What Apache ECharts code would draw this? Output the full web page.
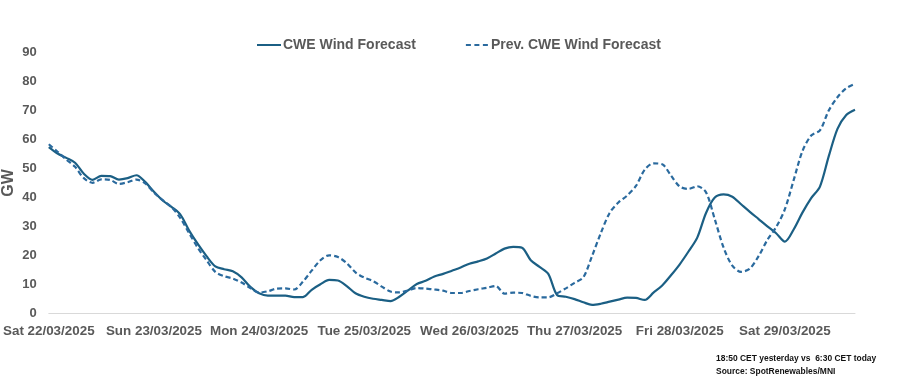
<!DOCTYPE html>
<html>
<head>
<meta charset="utf-8">
<script src="https://cdn.jsdelivr.net/npm/echarts@6/dist/echarts.min.js"></script>
<style>
html,body{margin:0;padding:0;background:#fff;}
#chart{width:897px;height:379px;}
</style>
</head>
<body>
<div id="chart"></div>
<script>
// Day labels (x-axis ticks, one every 24 h)
var dayLabels = ['Sat 22/03/2025','Sun 23/03/2025','Mon 24/03/2025','Tue 25/03/2025','Wed 26/03/2025','Thu 27/03/2025','Fri 28/03/2025','Sat 29/03/2025'];
// Hours of day sampled (every 2 h)
var hourLabels = ['00:00','02:00','04:00','06:00','08:00','10:00','12:00','14:00','16:00','18:00','20:00','22:00'];
// Last day covers up to 16:00
var lastDayHours = 9;

// CWE Wind Forecast (GW), every 2 hours
var cweWind = [
57.2,55.0,53.5,51.8,48.0,45.9,47.3,47.2,46.0,46.5,47.5,45.2,
41.8,38.8,36.6,34.0,28.5,23.8,19.6,16.1,15.1,14.4,12.3,9.0,
6.8,6.0,6.0,6.0,5.5,5.5,8.0,9.9,11.4,11.2,9.3,6.8,
5.6,4.9,4.5,4.1,5.6,7.8,10.0,11.1,12.6,13.5,14.6,15.7,
17.0,17.8,18.8,20.5,22.2,22.8,22.5,18.2,15.9,13.5,6.2,5.6,
4.8,3.7,2.8,3.2,3.9,4.6,5.3,5.2,4.5,7.0,9.5,13.0,
16.8,21.2,26.0,34.5,39.8,40.9,40.1,37.5,34.9,32.4,29.9,27.5,
24.6,28.8,34.6,39.6,43.6,54.0,63.5,68.3,70.1
];
// Prev. CWE Wind Forecast (GW), every 2 hours
var prevCweWind = [
58.2,55.6,52.9,50.4,46.5,44.9,46.1,45.9,44.5,45.1,46.0,44.7,
41.5,38.9,36.5,32.8,27.6,22.5,18.2,14.2,12.7,11.9,10.5,8.6,
7.0,7.5,8.4,8.5,8.1,10.8,14.6,18.2,19.9,19.3,17.2,14.0,
12.2,11.0,9.1,7.4,7.1,7.8,8.6,8.4,8.1,7.7,6.9,6.9,
7.6,8.2,8.7,9.3,6.7,7.0,6.9,5.9,5.4,5.4,6.8,8.5,
10.4,12.3,19.7,27.6,34.5,38.1,40.5,43.8,49.4,51.6,51.3,47.4,
43.6,42.8,43.7,41.6,32.3,22.6,16.3,14.2,15.3,19.6,25.2,29.6,
35.8,45.8,55.8,61.2,63.0,69.8,74.4,77.5,79.0
];
var seriesNames = ['CWE Wind Forecast','Prev. CWE Wind Forecast'];
var yTicks = {min:0, max:90, step:10};
var notes = ['18:50 CET yesterday vs  6:30 CET today','Source: SpotRenewables/MNI'];

var categories = [];
for (var d = 0; d < dayLabels.length; d++) {
  var n = (d === dayLabels.length - 1) ? lastDayHours : hourLabels.length;
  for (var h = 0; h < n; h++) categories.push(dayLabels[d] + ' ' + hourLabels[h]);
}

var solidColor = '#1b5f84';
var dashColor = '#2a6a9e';
var chart = echarts.init(document.getElementById('chart'), null, {renderer:'canvas'});
var font = "'Liberation Sans', Arial, sans-serif";
var grey = '#595959';
var noteFont = "bold 9.5px 'Liberation Sans', Arial, sans-serif";
chart.setOption({
  animation:false,
  backgroundColor:'#ffffff',
  grid:{left:47, right:42, top:52, bottom:66, containLabel:false},
  legend:{
    left:257, top:38, padding:0, itemWidth:24, itemHeight:2, itemGap:50,
    textStyle:{color:grey, fontWeight:'bold', fontSize:14, fontFamily:font, padding:[0,0,0,-3]},
    data:[
      {name:seriesNames[0], icon:'path://M0,0H24V2H0Z', itemStyle:{color:solidColor}},
      {name:seriesNames[1], icon:'path://M0,0H5V2H0Z M8.5,0H13.5V2H8.5Z M17,0H22V2H17Z', itemStyle:{color:dashColor}}
    ]
  },
  xAxis:{
    type:'category', data:categories, boundaryGap:false,
    axisLine:{show:true, lineStyle:{color:'#d9d9d9', width:1}},
    axisTick:{show:false},
    axisLabel:{
      interval:11, margin:12, color:grey, fontWeight:'bold', fontSize:13.4, fontFamily:font,
      formatter:function(v){ return v.split(' ').slice(0,2).join(' '); }
    },
    splitLine:{show:false}
  },
  yAxis:{
    type:'value', min:yTicks.min, max:yTicks.max, interval:yTicks.step,
    axisLine:{show:false}, axisTick:{show:false}, splitLine:{show:false},
    axisLabel:{margin:12, color:grey, fontWeight:'bold', fontSize:13, fontFamily:font}
  },
  graphic:[
    {type:'text', x:9, y:183, rotation:Math.PI/2,
     style:{text:'GW', fill:grey, font:"bold 16px 'Liberation Sans', Arial, sans-serif", align:'center', verticalAlign:'middle'}},
    {type:'text', x:716, y:358, scaleX:0.89,
     style:{text:notes[0], fill:'#111', font:noteFont, align:'left', verticalAlign:'middle'}},
    {type:'text', x:716, y:371, scaleX:0.89,
     style:{text:notes[1], fill:'#111', font:noteFont, align:'left', verticalAlign:'middle'}}
  ],
  series:[
    {name:seriesNames[0], type:'line', data:cweWind, symbol:'none', smooth:0.3,
     lineStyle:{color:solidColor, width:2.2}, itemStyle:{color:solidColor}},
    {name:seriesNames[1], type:'line', data:prevCweWind, symbol:'none', smooth:0.3,
     lineStyle:{color:dashColor, width:2.2, type:[5,3]}, itemStyle:{color:dashColor}}
  ]
});
</script>
</body>
</html>
